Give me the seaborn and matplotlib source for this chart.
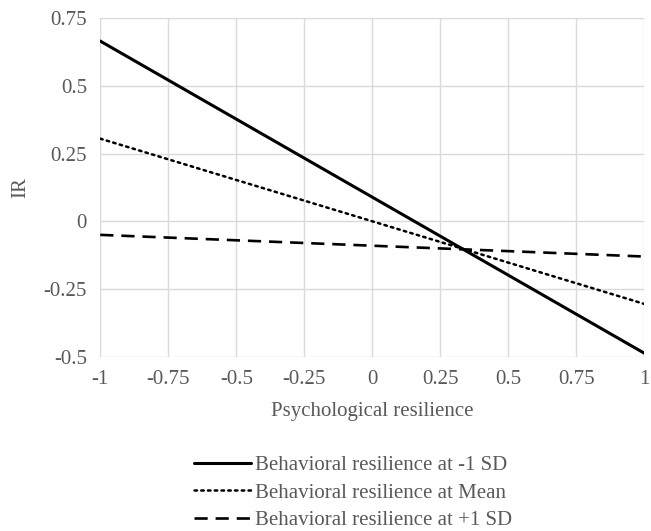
import pandas as pd
import matplotlib.pyplot as plt
import seaborn as sns

# Simple slopes: IR against psychological resilience at three levels of behavioral resilience
psych = [-1, 1]
low_sd = [0.665, -0.487]
mean_level = [0.305, -0.305]
high_sd = [-0.05, -0.13]

series_names = [
    "Behavioral resilience at -1 SD",
    "Behavioral resilience at Mean",
    "Behavioral resilience at +1 SD",
]
x_ticks = [-1, -0.75, -0.5, -0.25, 0, 0.25, 0.5, 0.75, 1]
x_labels = ["-1", "-0.75", "-0.5", "-0.25", "0", "0.25", "0.5", "0.75", "1"]
y_ticks = [-0.5, -0.25, 0, 0.25, 0.5, 0.75]
y_labels = ["-0.5", "-0.25", "0", "0.25", "0.5", "0.75"]

df = pd.DataFrame({
    "x": psych * 3,
    "IR": low_sd + mean_level + high_sd,
    "series": [series_names[0]] * 2 + [series_names[1]] * 2 + [series_names[2]] * 2,
})

sns.set_style("white")
plt.rcParams["font.family"] = ["Liberation Serif", "DejaVu Serif"]
text_gray = "#595959"
grid_gray = "#d9d9d9"
fs = 15

fig = plt.figure(figsize=(6.51, 5.31), dpi=100)
ax = fig.add_axes([0.154, 0.328, 0.836, 0.638])

styles = {
    series_names[0]: dict(linestyle="-", linewidth=2.2),
    series_names[1]: dict(linestyle=(0, (1, 1.7)), linewidth=1.8, dash_capstyle="round"),
    series_names[2]: dict(linestyle=(0, (5, 3)), linewidth=1.9),
}
for name in series_names:
    sub = df[df["series"] == name]
    sns.lineplot(data=sub, x="x", y="IR", ax=ax, color="black", label=name, **styles[name])

ax.set_xlim(-1, 1)
ax.set_ylim(-0.5, 0.75)
ax.set_xticks(x_ticks)
ax.set_xticklabels(x_labels)
ax.set_yticks(y_ticks)
ax.set_yticklabels(y_labels)
ax.grid(True, color=grid_gray, linewidth=1)
ax.set_axisbelow(True)
for s in ax.spines.values():
    s.set_visible(False)
ax.tick_params(axis="both", length=5, width=1, color=grid_gray, labelsize=fs,
               labelcolor=text_gray, pad=4.5)

ax.set_xlabel("Psychological resilience", fontsize=fs, color=text_gray, labelpad=9)
ax.set_ylabel("IR", fontsize=fs, color=text_gray, labelpad=10)

leg = ax.legend(loc="upper center", bbox_to_anchor=(0.465, -0.236), frameon=False,
                fontsize=fs, handlelength=2.74, handletextpad=0.2, labelspacing=0.38)
for t in leg.get_texts():
    t.set_color(text_gray)

fig.savefig("out.png", dpi=100)
